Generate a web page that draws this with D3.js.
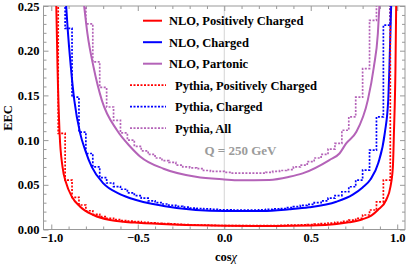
<!DOCTYPE html>
<html>
<head>
<meta charset="utf-8">
<script src="https://cdn.jsdelivr.net/npm/d3@7"></script>
<style>
body{margin:0;background:#fff;}
text{font-family:"Liberation Serif","DejaVu Serif",serif;font-weight:bold;}
</style>
</head>
<body>
<div id="chart"></div>
<script>
// tick values
var xTicks = [-1.0, -0.5, 0.0, 0.5, 1.0];
var xMinor = [-0.9, -0.8, -0.7, -0.6, -0.4, -0.3, -0.2, -0.1, 0.1, 0.2, 0.3, 0.4, 0.6, 0.7, 0.8, 0.9];
var yTicks = [0.00, 0.05, 0.10, 0.15, 0.20, 0.25];
var yMinor = [0.01, 0.02, 0.03, 0.04, 0.06, 0.07, 0.08, 0.09, 0.11, 0.12, 0.13, 0.14,
              0.16, 0.17, 0.18, 0.19, 0.21, 0.22, 0.23, 0.24];

// NLO curves, [cos chi, EEC]
var nloPos = [[-0.971,0.25],[-0.964,0.182],[-0.952,0.108],[-0.935,0.070],[-0.914,0.052],[-0.881,0.0367],
    [-0.833,0.0255],[-0.756,0.0162],[-0.660,0.0106],[-0.583,0.0087],[-0.5,0.0075],[-0.3,0.0056],
    [0,0.0042],[0.3,0.0040],[0.5,0.0045],[0.65,0.0062],[0.72,0.008],[0.80,0.0115],[0.85,0.0155],
    [0.888,0.0218],[0.936,0.033],[0.961,0.048],[0.975,0.070],[0.981,0.108],[0.990,0.182],[0.994,0.25]];
var nloCharged = [[-0.914,0.25],[-0.906,0.2266],[-0.887,0.182],[-0.867,0.1447],[-0.833,0.1075],[-0.804,0.0888],
    [-0.766,0.070],[-0.699,0.0516],[-0.612,0.0404],[-0.543,0.035],[-0.351,0.0263],[-0.164,0.0218],
    [0,0.0207],[0.222,0.0207],[0.376,0.0226],[0.49,0.0248],[0.648,0.031],[0.743,0.039],[0.80,0.047],
    [0.845,0.056],[0.89,0.074],[0.929,0.109],[0.948,0.1447],[0.955,0.182],[0.965,0.25]];
var nloPartonic = [[-0.810,0.25],[-0.791,0.219],[-0.756,0.182],[-0.708,0.1447],[-0.620,0.111],[-0.543,0.0926],
    [-0.485,0.0814],[-0.351,0.068],[-0.164,0.059],[0,0.056],[0.087,0.055],[0.26,0.0555],[0.376,0.059],
    [0.453,0.0628],[0.608,0.0777],[0.666,0.085],[0.705,0.0963],[0.763,0.109],[0.830,0.1447],
    [0.865,0.182],[0.888,0.219],[0.897,0.25]];

// Pythia histograms, bins of 0.04 from -1 to 1 (0.30 = off the top of the plot)
var binStart = -1, binWidth = 0.04;
var pythiaPos = [0.30,0.1075,0.0553,0.036,0.0274,0.021,0.017,0.0145,0.0125,0.011,
    0.010,0.0093,0.0087,0.008,0.0075,0.007,0.0066,0.0062,0.0058,0.0055,
    0.0052,0.005,0.0048,0.0046,0.0045,0.0044,0.0043,0.0043,0.0043,0.0043,
    0.0043,0.0044,0.0045,0.0046,0.0048,0.005,0.0053,0.0056,0.006,0.0066,
    0.0072,0.008,0.009,0.0105,0.0125,0.0162,0.0218,0.031,0.0553,0.30];
var pythiaCharged = [0.30,0.30,0.225,0.148,0.109,0.085,0.070,0.058,0.052,0.048,
    0.045,0.041,0.038,0.035,0.032,0.030,0.0285,0.027,0.026,0.025,
    0.024,0.0235,0.023,0.0225,0.022,0.022,0.0218,0.0218,0.0218,0.0218,
    0.022,0.0225,0.023,0.0235,0.0245,0.0255,0.027,0.028,0.030,0.032,
    0.035,0.038,0.0422,0.0478,0.0553,0.0665,0.0888,0.126,0.2285,0.30];
var pythiaAll = [0.30,0.30,0.30,0.30,0.30,0.230,0.1875,0.159,0.137,0.122,
    0.108,0.100,0.093,0.088,0.084,0.080,0.077,0.075,0.072,0.070,
    0.069,0.068,0.066,0.065,0.065,0.064,0.063,0.063,0.063,0.063,
    0.063,0.064,0.065,0.066,0.067,0.070,0.072,0.076,0.080,0.084,
    0.090,0.0963,0.111,0.126,0.148,0.180,0.234,0.30,0.30,0.30];

var legendLabels = ["NLO, Positively Charged", "NLO, Charged", "NLO, Partonic",
    "Pythia, Positively Charged", "Pythia, Charged", "Pythia, All"];

var red = "#ff0000", blue = "#0000ff", purple = "#b463b8";

var width = 407, height = 267;
var plotL = 43.5, plotR = 405, plotT = 6, plotB = 229.5;

var svg = d3.select("#chart").append("svg")
    .attr("width", width)
    .attr("height", height);

var x = d3.scaleLinear().domain([-1.045, 1.045]).range([plotL, plotR]);
var y = d3.scaleLinear().domain([0, 0.25]).range([plotB, plotT]);

svg.append("clipPath").attr("id", "plotclip")
    .append("rect").attr("x", plotL).attr("y", plotT)
    .attr("width", plotR - plotL).attr("height", plotB - plotT);

// grid line at cos chi = 0
svg.append("line")
    .attr("x1", x(0)).attr("x2", x(0)).attr("y1", plotT).attr("y2", plotB)
    .attr("stroke", "#d4d4d4").attr("stroke-width", 1);

// axes: inward ticks on all four sides
function styleAxis(g){
    g.select(".domain").remove();
    g.selectAll("line").attr("stroke", "#999");
    g.selectAll("text").attr("fill", "#000").style("font-size", "12.5px")
        .style("font-family", '"Liberation Serif", serif').style("font-weight", "bold");
}
svg.append("g").attr("transform", "translate(0," + plotB + ")")
    .call(d3.axisBottom(x).tickValues(xTicks).tickSize(-5).tickPadding(4).tickFormat(d3.format(".1f")))
    .call(styleAxis);
svg.append("g").attr("transform", "translate(0," + plotB + ")")
    .call(d3.axisBottom(x).tickValues(xMinor).tickSize(-3).tickFormat(""))
    .call(styleAxis);
svg.append("g").attr("transform", "translate(0," + plotT + ")")
    .call(d3.axisTop(x).tickValues(xTicks).tickSize(-5).tickFormat(""))
    .call(styleAxis);
svg.append("g").attr("transform", "translate(0," + plotT + ")")
    .call(d3.axisTop(x).tickValues(xMinor).tickSize(-3).tickFormat(""))
    .call(styleAxis);
svg.append("g").attr("transform", "translate(" + plotL + ",0)")
    .call(d3.axisLeft(y).tickValues(yTicks).tickSize(-5).tickPadding(4).tickFormat(d3.format(".2f")))
    .call(styleAxis);
svg.append("g").attr("transform", "translate(" + plotL + ",0)")
    .call(d3.axisLeft(y).tickValues(yMinor).tickSize(-3).tickFormat(""))
    .call(styleAxis);
svg.append("g").attr("transform", "translate(" + plotR + ",0)")
    .call(d3.axisRight(y).tickValues(yTicks).tickSize(-5).tickFormat(""))
    .call(styleAxis);
svg.append("g").attr("transform", "translate(" + plotR + ",0)")
    .call(d3.axisRight(y).tickValues(yMinor).tickSize(-3).tickFormat(""))
    .call(styleAxis);

// frame
svg.append("rect")
    .attr("x", plotL).attr("y", plotT)
    .attr("width", plotR - plotL).attr("height", plotB - plotT)
    .attr("fill", "none").attr("stroke", "#999").attr("stroke-width", 1);

// curves
var plot = svg.append("g").attr("clip-path", "url(#plotclip)");

var smooth = d3.line()
    .x(function(d){ return x(d[0]); })
    .y(function(d){ return y(d[1]); })
    .curve(d3.curveMonotoneX);

var steps = d3.line()
    .x(function(d){ return x(d[0]); })
    .y(function(d){ return y(d[1]); })
    .curve(d3.curveStepAfter);

function histPoints(vals){
    var pts = vals.map(function(v, i){ return [binStart + i * binWidth, v]; });
    pts.push([binStart + vals.length * binWidth, vals[vals.length - 1]]);
    return pts;
}

var nlo = [[nloPos, red], [nloCharged, blue], [nloPartonic, purple]];
nlo.forEach(function(s){
    plot.append("path").attr("d", smooth(s[0]))
        .attr("fill", "none").attr("stroke", s[1]).attr("stroke-width", 2);
});

var pythia = [[pythiaPos, red], [pythiaCharged, blue], [pythiaAll, purple]];
pythia.forEach(function(s){
    plot.append("path").attr("d", steps(histPoints(s[0])))
        .attr("fill", "none").attr("stroke", s[1]).attr("stroke-width", 1.7)
        .attr("stroke-dasharray", "2,1.5");
});

// legend
var legendColors = [red, blue, purple, red, blue, purple];
var legend = svg.append("g");
legendLabels.forEach(function(lab, i){
    var ly = 20.7 + 21.5 * i;
    var dashed = i > 2;
    legend.append("line")
        .attr("x1", dashed ? 130 : 143).attr("x2", dashed ? 166 : 162)
        .attr("y1", ly).attr("y2", ly)
        .attr("stroke", legendColors[i]).attr("stroke-width", dashed ? 1.7 : 2)
        .attr("stroke-dasharray", dashed ? "2,1.5" : null);
    legend.append("text")
        .attr("x", dashed ? 175 : 169).attr("y", ly + 4.3)
        .style("font-size", "12.5px")
        .text(lab);
});

// annotation
svg.append("text")
    .attr("x", 240.5).attr("y", 155)
    .attr("text-anchor", "middle")
    .attr("fill", "#9b9b9b")
    .style("font-size", "13px")
    .text("Q = 250 GeV");

// axis titles
svg.append("text")
    .attr("transform", "translate(12,118) rotate(-90)")
    .attr("text-anchor", "middle")
    .style("font-size", "12.5px")
    .text("EEC");

var xl = svg.append("text")
    .attr("x", 226).attr("y", 261)
    .attr("text-anchor", "middle")
    .style("font-size", "12.5px");
xl.append("tspan").text("cos");
xl.append("tspan").style("font-style", "italic").style("font-weight", "normal").text("χ");
</script>
</body>
</html>
